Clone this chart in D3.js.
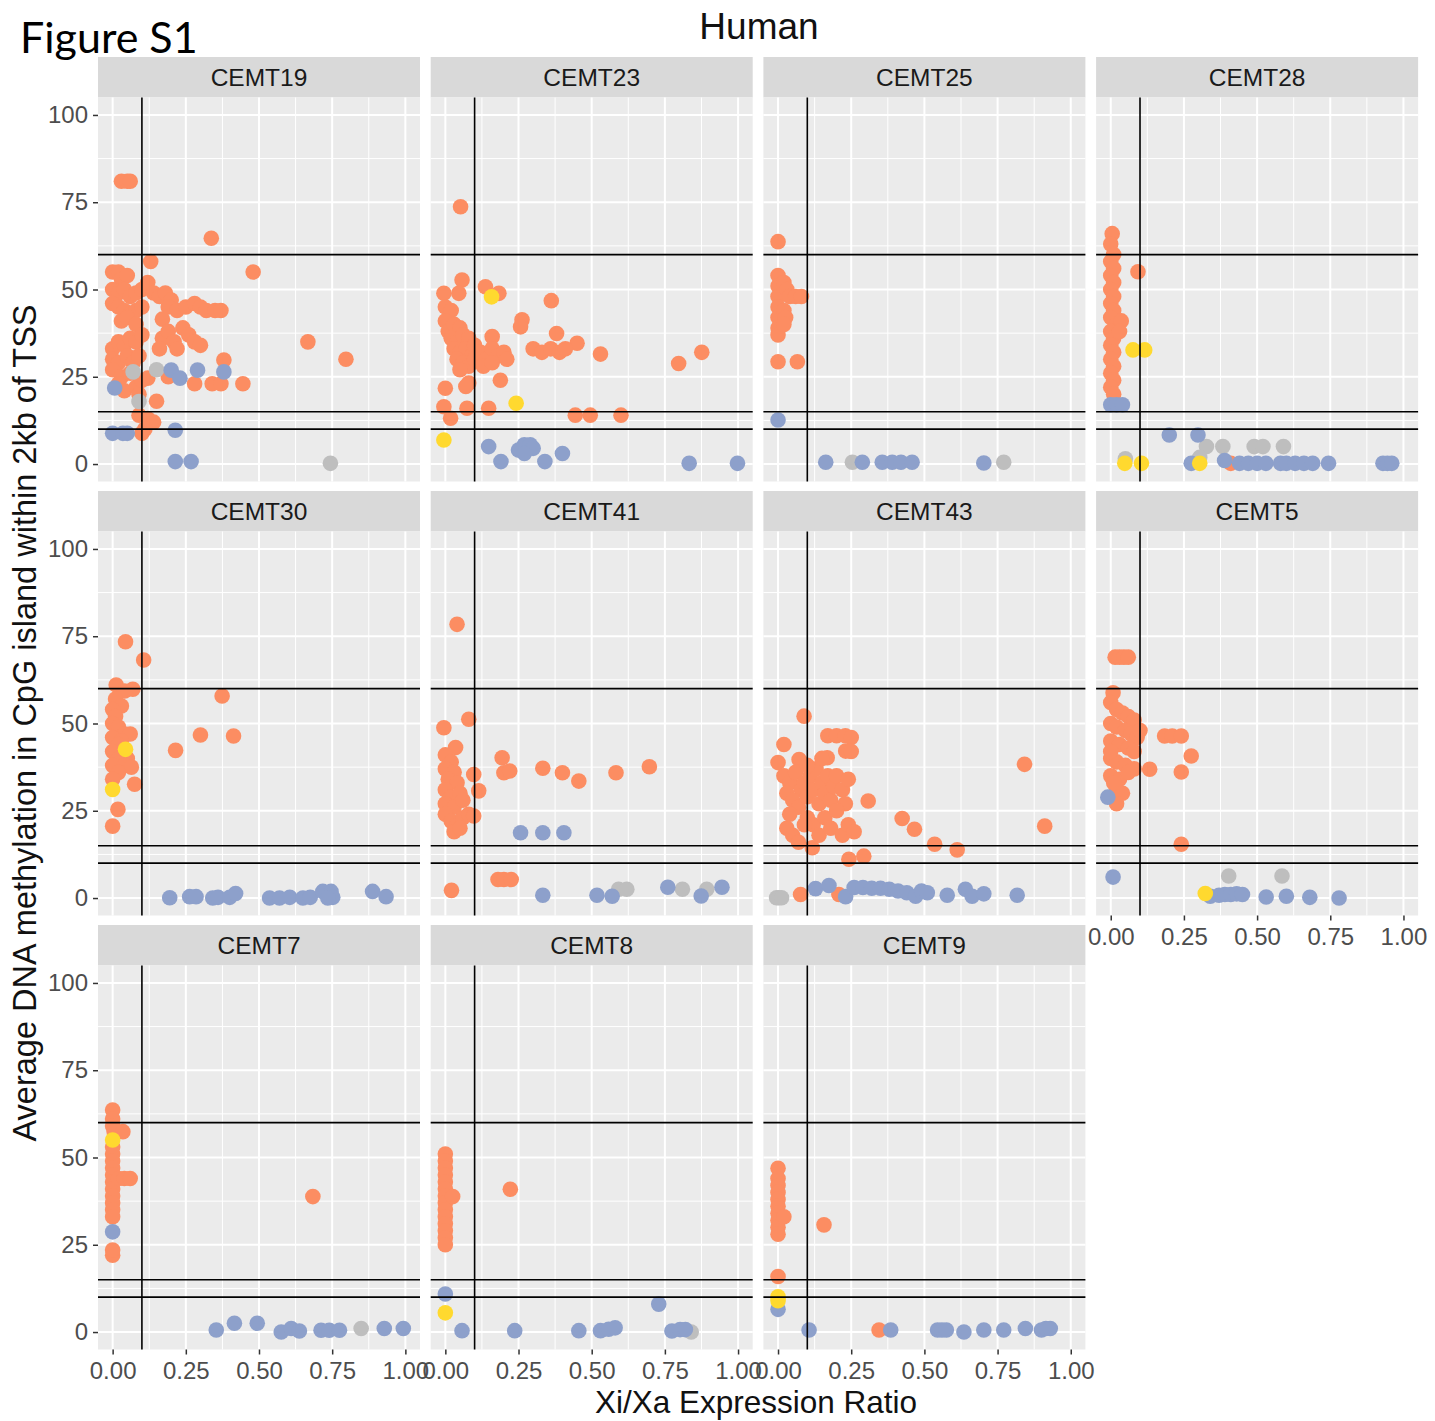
<!DOCTYPE html>
<html>
<head>
<meta charset="utf-8">
<script src="https://cdn.jsdelivr.net/npm/d3@7"></script>
<style>
  body { margin: 0; background: #ffffff; }
  svg { display: block; }
</style>
</head>
<body>
<svg id="chart" width="1435" height="1421"></svg>
<script>
// ---- data ---------------------------------------------------------------
// Each sample: genes as [Xi/Xa expression ratio, average CpG-island methylation %]
// grouped by X-inactivation status.

const panelNames = ["CEMT19", "CEMT23", "CEMT25", "CEMT28",
                    "CEMT30", "CEMT41", "CEMT43", "CEMT5",
                    "CEMT7", "CEMT8", "CEMT9"];

// drawing order of the status groups (later groups sit on top)
const statusGroups = ["subject", "unknown", "escape", "variable"];

const xTicks = [0, 0.25, 0.5, 0.75, 1];
const yTicks = [0, 25, 50, 75, 100];
const ratioCutoffs = [0.1];
const methylCutoffs = [60, 15, 10];

const cemt19 = {
  subject: [[0.03,81],[0.05,81],[0.06,81],[0.337,64.7],[0.48,55],[0.667,35],[0.797,30],[0.38,29.8],
    [0.13,58],[0.0,55],[0.02,55],[0.03,53],[0.05,54],[0.0,50],[0.02,49],[0.04,50],[0.06,48],[0.08,49],
    [0.0,46],[0.02,45],[0.04,44],[0.06,43],[0.08,44],[0.03,41],[0.05,42],[0.08,40],
    [0.1,50],[0.1,45],[0.12,52],[0.14,49],[0.16,48],[0.18,49],[0.20,47],[0.19,45],
    [0.22,44],[0.25,45],[0.28,46],[0.30,45],[0.32,44],[0.35,44],[0.37,44],
    [0.17,41.5],[0.17,36],[0.19,38],[0.16,33],[0.21,35],[0.24,39],[0.26,37],[0.28,35],[0.30,34],[0.22,33],
    [0.0,33],[0.02,35],[0.04,34],[0.06,36],[0.08,35],[0.1,37],
    [0.0,30],[0.02,29],[0.05,31],[0.07,29],[0.09,31],
    [0.0,27],[0.03,25],[0.06,26],[0.02,23],[0.04,21],[0.08,22],[0.09,20],[0.1,24],[0.12,24.6],
    [0.15,18],[0.09,14],[0.12,13],[0.14,12],[0.11,10],[0.1,8.8],
    [0.19,25],[0.28,23],[0.34,23],[0.37,23],[0.445,23]],
  unknown: [[0.15,27],[0.07,26.4],[0.09,17.9],[0.744,0.2]],
  escape: [[0.38,26.4],[0.29,26.9],[0.20,26.9],[0.23,24.6],[0.007,21.8],[0.0,8.8],[0.035,8.8],[0.05,8.8],
    [0.214,9.7],[0.214,0.7],[0.268,0.7]],
  variable: []
};

const cemt23 = {
  subject: [[0.052,73.7],[-0.005,48.9],[0.057,52.7],[0.046,48.9],[0.137,50.8],[0.183,48.9],[0.362,46.8],
    [0.262,41.3],[0.257,39.3],
    [0.0,45],[0.02,44],[0.0,41],[0.01,38],[0.03,40],[0.05,39],[0.02,36],[0.04,35],[0.06,37],[0.08,36],
    [0.03,33],[0.05,32],[0.07,33],[0.09,31],[0.04,30],[0.06,29],[0.08,28],[0.05,27],[0.1,34],[0.1,30],
    [0.16,36.5],[0.38,37.4],[0.45,34.6],[0.30,33],[0.33,32],[0.36,33],[0.39,32],[0.41,33],[0.53,31.5],
    [0.797,28.8],[0.876,32],
    [0.12,32],[0.14,30],[0.16,33],[0.18,31],[0.2,32],[0.21,30],[0.13,28],[0.16,29],
    [0.188,24],[0.08,23.2],[0.07,22.2],[0.0,21.7],[-0.005,16.4],[0.018,13.1],[0.074,16],[0.148,16],
    [0.444,14],[0.495,14],[0.60,14]],
  unknown: [],
  escape: [[0.148,5],[0.19,0.7],[0.25,4],[0.27,5.5],[0.29,5.5],[0.30,4.5],[0.27,3],[0.34,0.7],[0.40,3],
    [0.833,0.2],[0.998,0.2]],
  variable: [[0.158,47.9],[0.242,17.4],[-0.005,6.9]]
};

const cemt25 = {
  subject: [[0.0,63.7],[0.0,54],[0.0,51],[0.0,48],[0.0,45],[0.0,42],[0.0,39],[0.0,37],[0.02,52],[0.03,50],
    [0.04,48],[0.06,48],[0.08,48],[0.02,44],[0.026,42],[0.02,40],[0.0,29.3],[0.066,29.3]],
  unknown: [[0.254,0.5],[0.771,0.5]],
  escape: [[0.0,12.6],[0.163,0.5],[0.288,0.5],[0.356,0.5],[0.39,0.5],[0.42,0.5],[0.458,0.5],[0.703,0.3]],
  variable: []
};

const cemt28 = {
  subject: [[0.005,66],[0.0,63],[0.01,60],[0.0,58],[0.01,56],[0.0,54],[0.01,52],[0.0,50],[0.01,48],[0.0,46],
    [0.01,44],[0.0,42],[0.02,40],[0.0,38],[0.01,36],[0.0,34],[0.01,32],[0.0,30],[0.01,28],[0.0,26],
    [0.01,24],[0.0,22],[0.01,20],[0.036,41],[0.03,38],[0.093,55.1],[0.41,0.2]],
  unknown: [[0.327,5],[0.383,5],[0.49,5],[0.52,5],[0.59,5],[0.304,1.9],[0.05,1.5]],
  escape: [[0.0,17],[0.02,17],[0.04,17],[0.2,8.3],[0.298,8.3],[0.275,0.2],[0.389,1],[0.44,0.2],[0.47,0.2],
    [0.5,0.2],[0.53,0.2],[0.58,0.2],[0.6,0.2],[0.63,0.2],[0.66,0.2],[0.69,0.2],[0.744,0.2],
    [0.93,0.2],[0.945,0.2],[0.96,0.2]],
  variable: [[0.076,32.7],[0.116,32.7],[0.048,0.2],[0.105,0.2],[0.304,0.2]]
};

const cemt30 = {
  subject: [[0.044,73.4],[0.106,68.2],[0.012,61],[0.069,59.8],[0.041,59.3],[0.01,57],[0.03,55],[0.0,54],
    [0.01,52],[0.0,50],[0.02,49],[0.04,47],[0.06,47],[0.0,46],[0.03,45],[0.02,44],[0.0,42],[0.02,40],
    [0.05,40],[0.0,38],[0.04,38],[0.064,37.5],[0.02,36],[0.0,34],[0.075,32.6],[0.018,25.4],[0.0,20.6],
    [0.374,57.9],[0.3,46.7],[0.413,46.4],[0.215,42.3]],
  unknown: [],
  escape: [[0.195,0.1],[0.263,0.4],[0.285,0.4],[0.342,0],[0.36,0.2],[0.4,0.2],[0.42,1.3],[0.536,0],
    [0.57,0],[0.605,0.2],[0.65,0],[0.675,0.2],[0.718,1.9],[0.746,1.9],[0.752,0.2],[0.735,0],
    [0.888,1.9],[0.934,0.4]],
  variable: [[0.044,42.6],[0.0,31.1]]
};

const cemt41 = {
  subject: [[0.04,78.4],[0.08,51.2],[-0.005,48.8],[0.035,43.1],[0.0,41],[0.02,39],[0.0,37],[0.03,36],
    [0.01,34],[0.04,33],[0.0,31],[0.02,29],[0.05,30],[0.0,27],[0.03,26],[0.06,28],[0.0,24],[0.02,22],
    [0.04,21],[0.06,23],[0.03,19],[0.05,20],[0.08,24],[0.097,35.4],[0.114,30.7],[0.097,23.5],
    [0.194,40.2],[0.2,35.9],[0.22,36.4],[0.333,37.2],[0.4,35.9],[0.456,33.5],[0.583,35.9],[0.697,37.6],
    [0.18,5.3],[0.2,5.3],[0.225,5.3],[0.021,2.2]],
  unknown: [[0.592,2.5],[0.62,2.5],[0.81,2.5],[0.893,2.5]],
  escape: [[0.257,18.7],[0.333,18.7],[0.405,18.7],[0.333,0.8],[0.518,0.8],[0.57,0.5],[0.76,3.1],
    [0.874,0.6],[0.945,3.1]],
  variable: []
};

const cemt43 = {
  subject: [[0.089,52.1],[0.17,46.5],[0.2,46.5],[0.23,46.5],[0.25,46],[0.231,42.1],[0.25,42],[0.02,44],
    [0.0,38.8],[0.072,39.7],[0.168,40.2],
    [0.02,35],[0.04,33],[0.06,36],[0.08,31],[0.03,30],[0.05,28],[0.07,26],[0.09,33],[0.1,29],[0.11,35],
    [0.12,31],[0.13,37],[0.14,27],[0.15,33],[0.16,30],[0.17,35],[0.18,28],[0.19,32],[0.2,35],[0.22,31],
    [0.23,27],[0.24,34],[0.1,23],[0.12,21],[0.14,18],[0.16,23],[0.18,20],[0.2,25],[0.22,18],[0.24,21],
    [0.26,19],[0.03,20],[0.05,18],[0.07,16],[0.09,21],[0.04,24],[0.1,38],[0.15,40],
    [0.308,27.8],[0.424,22.8],[0.466,19.7],[0.535,15.4],[0.612,13.8],[0.842,38.3],[0.911,20.6],
    [0.242,11.1],[0.293,12],[0.117,14.4],[0.077,1],[0.208,1]],
  unknown: [[-0.005,0.1],[0.003,0.1],[0.012,0.1]],
  escape: [[0.128,2.7],[0.174,3.6],[0.231,0.4],[0.26,3],[0.29,3],[0.32,2.8],[0.35,2.8],[0.38,2.5],
    [0.41,2],[0.44,1.5],[0.47,0.5],[0.49,2],[0.51,1.5],[0.578,0.8],[0.64,2.5],[0.663,0.5],
    [0.703,1.2],[0.817,0.8]],
  variable: []
};

const cemt5 = {
  subject: [[0.015,69],[0.03,69],[0.045,69],[0.06,69],[0.008,58.8],
    [0.0,56],[0.02,54],[0.04,53],[0.06,52],[0.08,51],[0.0,50],[0.02,49],[0.05,48],[0.07,47],[0.09,46],
    [0.1,48],[0.0,45],[0.03,44],[0.06,43],[0.08,42],[0.0,40],[0.02,39],[0.05,38],[0.08,37],[0.0,35],
    [0.03,34],[0.06,36],[0.02,31],[0.04,30],[0.0,42],[0.01,33],
    [0.133,36.9],[0.184,46.4],[0.21,46.4],[0.241,46.4],[0.275,40.7],[0.241,36.1],[0.241,15.4],[0.02,27]],
  unknown: [[0.403,6.3],[0.585,6.3]],
  escape: [[-0.01,28.9],[0.008,6],[0.34,0.5],[0.37,0.8],[0.39,1],[0.41,1],[0.43,1.2],[0.45,1],
    [0.531,0.3],[0.6,0.5],[0.68,0.2],[0.78,0]],
  variable: [[0.323,1.3]]
};

const cemt7 = {
  subject: [[0.0,63.6],[0.0,61],[0.0,59],[0.005,57.4],[0.035,57.4],[0.0,53],[0.0,51],[0.0,49],[0.0,47],
    [0.0,45],[0.0,43],[0.0,41],[0.0,39],[0.0,37],[0.0,35],[0.0,33],[0.02,44],[0.04,44],[0.06,44],
    [0.0,22],[0.0,23.5],[0.684,38.8]],
  unknown: [[0.849,1]],
  escape: [[0.0,28.7],[0.354,0.6],[0.416,2.5],[0.494,2.5],[0.576,0],[0.61,1],[0.638,0.3],[0.712,0.5],
    [0.74,0.5],[0.775,0.5],[0.928,1],[0.993,1]],
  variable: [[0.0,55]]
};

const cemt8 = {
  subject: [[0.0,51],[0.0,49],[0.0,47],[0.0,45],[0.0,43],[0.0,41],[0.0,39],[0.0,37],[0.0,35],[0.0,33],
    [0.0,31],[0.0,29],[0.0,27],[0.0,25],[0.025,38.8],[0.222,40.9]],
  unknown: [[0.84,0]],
  escape: [[0.0,10.9],[0.057,0.4],[0.237,0.4],[0.456,0.4],[0.53,0.4],[0.558,0.8],[0.58,1.2],[0.729,8],
    [0.774,0.3],[0.802,0.7],[0.82,0.7]],
  variable: [[0.0,5.5]]
};

const cemt9 = {
  subject: [[0.0,46.9],[0.0,44],[0.0,42],[0.0,40],[0.0,38],[0.0,36],[0.0,34],[0.0,32],[0.0,30],[0.0,28],
    [0.02,33],[0.157,30.7],[0.0,15.9],[0.345,0.6]],
  unknown: [],
  escape: [[0.0,6.5],[0.106,0.6],[0.385,0.6],[0.545,0.6],[0.56,0.6],[0.575,0.6],[0.635,0],[0.703,0.6],
    [0.771,0.6],[0.845,1],[0.9,0.6],[0.915,1],[0.93,1]],
  variable: [[0.0,10.1],[0.0,9]]
};

const panelData = [cemt19, cemt23, cemt25, cemt28, cemt30, cemt41, cemt43, cemt5, cemt7, cemt8, cemt9];

// ---- layout -------------------------------------------------------------
const svg = d3.select("#chart");
const font = "'Liberation Sans', Arial, sans-serif";

const nCols = 4;
const gridLeft = 98, panelW = 322, colStep = 332.7;
const gridTop = 57, rowStep = 434, stripH = 40.5, plotH = 384;

const colour = d3.scaleOrdinal()
  .domain(statusGroups)
  .range(["#FC8D62", "#BEBEBE", "#8DA0CB", "#FFD92F"]);

const x = d3.scaleLinear().domain([-0.05, 1.05]).range([0, panelW]);
const y = d3.scaleLinear().domain([-5, 105]).range([plotH, 0]);

const xMinor = [0.125, 0.375, 0.625, 0.875];
const yMinor = [12.5, 37.5, 62.5, 87.5];

svg.append("rect").attr("width", 1435).attr("height", 1421).attr("fill", "#ffffff");

panelNames.forEach((name, i) => {
  const row = Math.floor(i / nCols), col = i % nCols;
  const left = gridLeft + col * colStep;
  const top = gridTop + row * rowStep;
  const g = svg.append("g").attr("transform", `translate(${left},${top})`);

  // strip
  g.append("rect").attr("width", panelW).attr("height", stripH).attr("fill", "#d9d9d9");
  g.append("text")
    .attr("x", panelW / 2).attr("y", stripH / 2 + 8.5)
    .attr("text-anchor", "middle")
    .attr("font-family", font).attr("font-size", 24.5).attr("fill", "#1a1a1a")
    .text(name);

  const p = g.append("g").attr("transform", `translate(0,${stripH})`);
  p.append("rect").attr("width", panelW).attr("height", plotH).attr("fill", "#ebebeb");

  // grid
  p.selectAll(".xmin").data(xMinor).join("line")
    .attr("x1", d => x(d)).attr("x2", d => x(d)).attr("y1", 0).attr("y2", plotH)
    .attr("stroke", "#ffffff").attr("stroke-width", 1);
  p.selectAll(".ymin").data(yMinor).join("line")
    .attr("y1", d => y(d)).attr("y2", d => y(d)).attr("x1", 0).attr("x2", panelW)
    .attr("stroke", "#ffffff").attr("stroke-width", 1);
  p.selectAll(".xmaj").data(xTicks).join("line")
    .attr("x1", d => x(d)).attr("x2", d => x(d)).attr("y1", 0).attr("y2", plotH)
    .attr("stroke", "#ffffff").attr("stroke-width", 2);
  p.selectAll(".ymaj").data(yTicks).join("line")
    .attr("y1", d => y(d)).attr("y2", d => y(d)).attr("x1", 0).attr("x2", panelW)
    .attr("stroke", "#ffffff").attr("stroke-width", 2);

  // points
  const pts = panelData[i];
  statusGroups.forEach(grp => {
    p.append("g").selectAll("circle").data(pts[grp]).join("circle")
      .attr("cx", d => x(d[0])).attr("cy", d => y(d[1])).attr("r", 7.8)
      .attr("fill", colour(grp));
  });

  // cut-off lines
  p.selectAll(".vcut").data(ratioCutoffs).join("line")
    .attr("x1", d => x(d)).attr("x2", d => x(d)).attr("y1", 0).attr("y2", plotH)
    .attr("stroke", "#000000").attr("stroke-width", 1.6);
  p.selectAll(".hcut").data(methylCutoffs).join("line")
    .attr("y1", d => y(d)).attr("y2", d => y(d)).attr("x1", 0).attr("x2", panelW)
    .attr("stroke", "#000000").attr("stroke-width", 1.6);

  // axes
  const showX = row === 2 || (row === 1 && col === 3);
  if (showX) {
    const ax = p.append("g").attr("transform", `translate(0,${plotH})`)
      .call(d3.axisBottom(x).tickValues(xTicks).tickFormat(d3.format(".2f")).tickSize(5).tickPadding(7));
    ax.select(".domain").remove();
    ax.selectAll("line").attr("stroke", "#333333").attr("stroke-width", 1.5);
    ax.selectAll("text").attr("font-family", font).attr("font-size", 24).attr("fill", "#4d4d4d");
  }
  if (col === 0) {
    const ay = p.append("g")
      .call(d3.axisLeft(y).tickValues(yTicks).tickSize(5).tickPadding(5));
    ay.select(".domain").remove();
    ay.selectAll("line").attr("stroke", "#333333").attr("stroke-width", 1.5);
    ay.selectAll("text").attr("font-family", font).attr("font-size", 24).attr("fill", "#4d4d4d");
  }
});

// titles
svg.append("text").attr("x", 759).attr("y", 39).attr("text-anchor", "middle")
  .attr("font-family", font).attr("font-size", 37).attr("fill", "#111111").text("Human");

svg.append("text").attr("x", 20).attr("y", 53)
  .attr("font-family", "Lato, 'Open Sans', sans-serif").attr("font-size", 43).attr("fill", "#000000")
  .text("Figure S1");

svg.append("text").attr("x", 756).attr("y", 1413).attr("text-anchor", "middle")
  .attr("font-family", font).attr("font-size", 31.5).attr("fill", "#111111")
  .text("Xi/Xa Expression Ratio");

svg.append("text")
  .attr("transform", "translate(36,723) rotate(-90)")
  .attr("text-anchor", "middle")
  .attr("font-family", font).attr("font-size", 32.5).attr("fill", "#111111")
  .text("Average DNA methylation in CpG island within 2kb of TSS");
</script>
</body>
</html>
